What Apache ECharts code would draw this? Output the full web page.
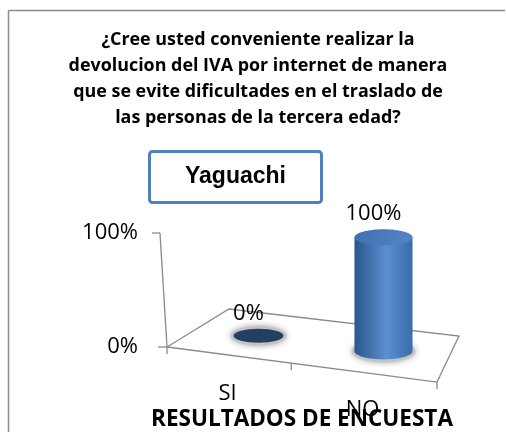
<!DOCTYPE html>
<html>
<head>
<meta charset="utf-8">
<script src="https://cdn.jsdelivr.net/npm/echarts@6/dist/echarts.min.js"></script>
<style>html,body{margin:0;padding:0;background:#fff;overflow:hidden}#chart{width:506px;height:432px}</style>
</head>
<body>
<div id="chart"></div>
<script>
const titleLines = [
  '¿Cree usted conveniente realizar la',
  'devolucion del IVA por internet de manera',
  'que se evite dificultades en el traslado de',
  'las personas de la tercera edad?'
];
const seriesName = 'Yaguachi';
const categories = ['SI', 'NO'];
const values = [0, 100];
const yTicks = [0, 100];
const axisTitle = 'RESULTADOS DE ENCUESTA';

const chart = echarts.init(document.getElementById('chart'));

// the 3D floor, as offsets from the grid's front-left corner
function floorCorners(r) {
  const x0 = r.x, y0 = r.y + r.height, w = r.width;
  return {
    A: [x0, y0],
    B: [x0 + w, y0 + 0.13 * w],
    C: [x0 + w + 22, y0 - 11],
    D: [x0 + 62, y0 - 38]
  };
}
function bilerp(f, u, d) {
  const fx = f.A[0] + (f.B[0] - f.A[0]) * u, fy = f.A[1] + (f.B[1] - f.A[1]) * u;
  const bx = f.D[0] + (f.C[0] - f.D[0]) * u, by = f.D[1] + (f.C[1] - f.D[1]) * u;
  return [fx + (bx - fx) * d, fy + (by - fy) * d];
}
const lineStyle = { stroke: '#8a8a8a', lineWidth: 1.3, fill: null };

function renderFloor(params, api) {
  const r = params.coordSys;
  const f = floorCorners(r);
  const top = [f.A[0] - 7, r.y];
  const kids = [
    { type: 'polygon', shape: { points: [f.A, f.B, f.C, f.D] }, style: { fill: '#fff', stroke: '#8a8a8a', lineWidth: 1.3 } },
    { type: 'line', shape: { x1: f.A[0], y1: f.A[1], x2: top[0], y2: top[1] }, style: lineStyle },
    { type: 'line', shape: { x1: top[0] - 8, y1: top[1], x2: top[0], y2: top[1] }, style: lineStyle },
    { type: 'line', shape: { x1: f.A[0] - 9, y1: f.A[1], x2: f.A[0], y2: f.A[1] }, style: lineStyle }
  ];
  [0, 0.46, 1].forEach(function (u) {
    const p = bilerp(f, u, 0);
    kids.push({ type: 'line', shape: { x1: p[0], y1: p[1], x2: p[0], y2: p[1] + 7 }, style: lineStyle });
  });
  return { type: 'group', children: kids };
}

function renderBar(params, api) {
  const r = params.coordSys;
  const f = floorCorners(r);
  const i = api.value(0), v = api.value(1);
  const p0 = api.coord([i, 0]), p1 = api.coord([i, v]);
  const u = (p0[0] - r.x) / r.width;
  const base = bilerp(f, u, 0.5);
  const h = p0[1] - p1[1];
  const s = 0.85 + 0.3 * u;
  const rx = api.size([1, 0])[0] * 0.2 * s;
  const ry = rx * 0.28;
  const cx = base[0] - 2, by = base[1], ty = by - h;
  const kids = [
    { type: 'ellipse', shape: { cx: cx, cy: by, rx: rx + 3, ry: ry + 3 },
      style: { fill: '#c4c4c4', shadowBlur: 6, shadowColor: '#aaa' } }
  ];
  if (h > 1) {
    const grad = new echarts.graphic.LinearGradient(0, 0, 1, 0, [
      { offset: 0, color: '#2b568c' },
      { offset: 0.55, color: '#5b8fd0' },
      { offset: 1, color: '#3b6cab' }
    ]);
    kids.push({ type: 'ellipse', shape: { cx: cx, cy: by, rx: rx, ry: ry }, style: { fill: grad } });
    kids.push({ type: 'rect', shape: { x: cx - rx, y: ty, width: rx * 2, height: h }, style: { fill: grad } });
    kids.push({ type: 'ellipse', shape: { cx: cx, cy: ty, rx: rx, ry: ry },
      style: { fill: new echarts.graphic.LinearGradient(0, 0, 1, 1, [
        { offset: 0, color: '#3f71b1' }, { offset: 1, color: '#5585c4' }]) } });
  } else {
    kids.push({ type: 'ellipse', shape: { cx: cx, cy: by, rx: rx, ry: ry }, style: { fill: '#243f62' } });
  }
  kids.push({ type: 'text', x: cx - 10, y: ty - ry - 15,
    style: { text: v + '%', align: 'center', verticalAlign: 'middle', font: '22px "Open Sans"', fill: '#000' } });
  const lp = bilerp(f, u, 0);
  kids.push({ type: 'text', x: lp[0] - 7, y: lp[1] + 38 - 2 * u,
    style: { text: categories[i], align: 'center', verticalAlign: 'middle', font: '22px "Open Sans"', fill: '#000' } });
  return { type: 'group', children: kids };
}

chart.setOption({
  animation: false,
  graphic: [
    { type: 'line', z: -10, shape: { x1: 8.5, y1: 10.5, x2: 505, y2: 10.5 }, style: { stroke: '#8c8c8c', lineWidth: 1.5 } },
    { type: 'line', z: -10, shape: { x1: 8.5, y1: 10.5, x2: 8.5, y2: 432 }, style: { stroke: '#8c8c8c', lineWidth: 1.5 } },
    { type: 'text', x: 258, y: 27,
      style: { text: titleLines.join('\n'), align: 'center', verticalAlign: 'top', lineHeight: 26,
        font: 'bold 17.9px "Open Sans"', fill: '#000' } }
  ],
  title: [
    { text: seriesName, left: 149, top: 151, padding: [14, 36], borderColor: '#4f81bd', borderWidth: 3,
      borderRadius: 3, backgroundColor: '#fff',
      textStyle: { fontFamily: 'Liberation Sans', fontWeight: 'bold', fontSize: 23, lineHeight: 24, color: '#000' } }
  ],
  grid: { left: 167, top: 233, width: 270, height: 115 },
  xAxis: {
    type: 'category', data: categories,
    axisLine: { show: false }, axisTick: { show: false }, axisLabel: { show: false },
    name: axisTitle, nameLocation: 'middle', nameGap: 61,
    nameTextStyle: { fontFamily: 'Open Sans', fontWeight: 'bold', fontSize: 22.5, color: '#000' }
  },
  yAxis: {
    type: 'value', min: yTicks[0], max: yTicks[yTicks.length - 1], interval: 100,
    axisLine: { show: false }, axisTick: { show: false }, splitLine: { show: false },
    axisLabel: { formatter: '{value}%', margin: 29, fontFamily: 'Open Sans', fontSize: 22, color: '#000' }
  },
  series: [
    { type: 'custom', name: 'floor', data: [[0, 0]], renderItem: renderFloor, z: 1, silent: true },
    { type: 'custom', name: seriesName, data: values.map(function (v, i) { return [i, v]; }),
      renderItem: renderBar, z: 2 }
  ]
});
</script>
</body>
</html>
